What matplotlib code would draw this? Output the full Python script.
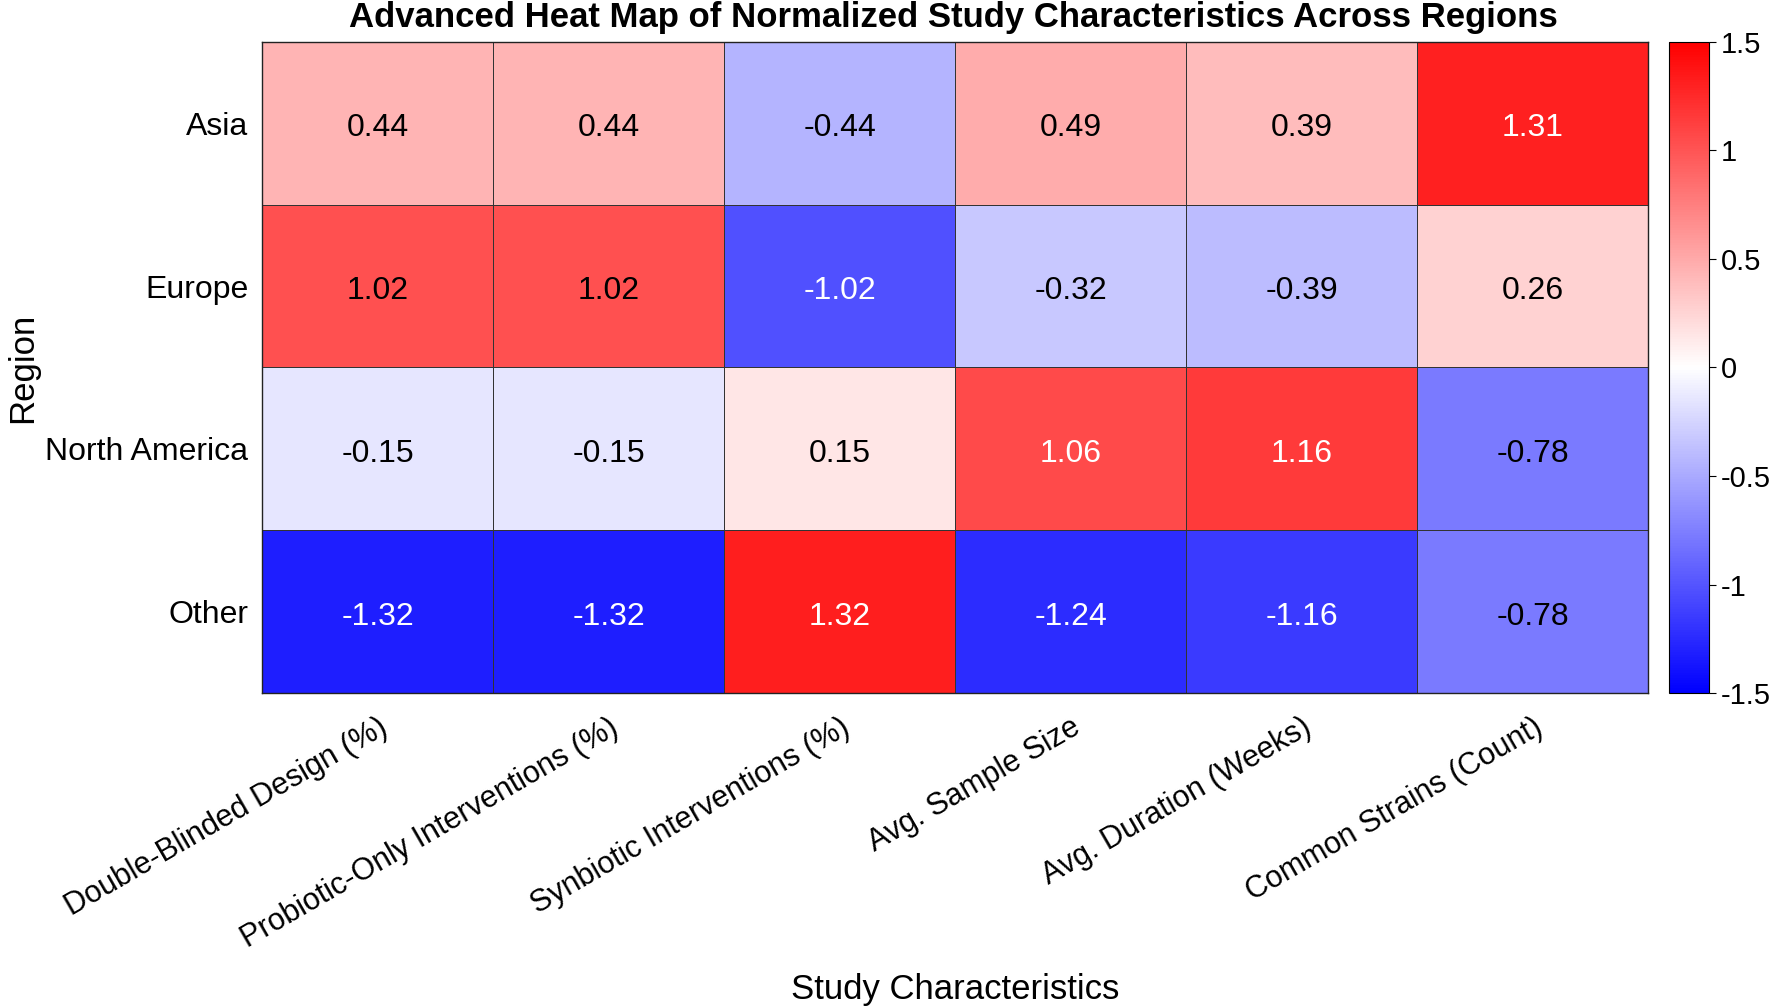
import numpy as np
import matplotlib
matplotlib.use('Agg')
import matplotlib.pyplot as plt
from matplotlib.ticker import FuncFormatter

plt.rcParams['font.family'] = ['Liberation Sans', 'DejaVu Sans']

regions = ['Asia', 'Europe', 'North America', 'Other']
characteristics = ['Double-Blinded Design (%)', 'Probiotic-Only Interventions (%)',
                   'Synbiotic Interventions (%)', 'Avg. Sample Size',
                   'Avg. Duration (Weeks)', 'Common Strains (Count)']
asia = [0.44, 0.44, -0.44, 0.49, 0.39, 1.31]
europe = [1.02, 1.02, -1.02, -0.32, -0.39, 0.26]
north_america = [-0.15, -0.15, 0.15, 1.06, 1.16, -0.78]
other = [-1.32, -1.32, 1.32, -1.24, -1.16, -0.78]
cbar_ticks = [-1.5, -1, -0.5, 0, 0.5, 1, 1.5]

values = np.array([asia, europe, north_america, other])

fig = plt.figure(figsize=(17.72, 10.07), dpi=100)
ax = fig.add_axes([0.148, 0.3117, 0.782, 0.6468])
cax = fig.add_axes([0.942, 0.3117, 0.0223, 0.6468])

mesh = ax.pcolormesh(values, cmap='bwr', vmin=-1.5, vmax=1.5,
                     edgecolors='#333333', linewidth=0.7)
ax.set_xlim(0, len(characteristics))
ax.set_ylim(len(regions), 0)

for i in range(len(regions)):
    for j in range(len(characteristics)):
        v = values[i, j]
        col = 'white' if (v > 1.05 or v < -1.0) else 'black'
        ax.text(j + 0.5, i + 0.53, f'{v:.2f}', ha='center', va='center',
                fontsize=23, color=col)

ax.set_xticks(np.arange(len(characteristics)) + 0.5)
ax.set_xticklabels(characteristics, rotation=30, ha='right',
                   rotation_mode='anchor', fontsize=22)
ax.set_yticks(np.arange(len(regions)) + 0.5)
ax.set_yticklabels(regions, fontsize=23)
ax.tick_params(axis='both', length=0)
ax.tick_params(axis='x', pad=14)
ax.tick_params(axis='y', pad=10)
for s in ax.spines.values():
    s.set_color('#222222')
    s.set_linewidth(1.0)

ax.set_xlabel('Study Characteristics', fontsize=25)
ax.xaxis.set_label_coords(0.5, -0.43)
ax.set_ylabel('Region', fontsize=25)
ax.yaxis.set_label_coords(-0.161, 0.5)
fig.text(0.538, 0.983, 'Advanced Heat Map of Normalized Study Characteristics Across Regions',
         ha='center', va='center', fontsize=25, fontweight='bold')

cb = fig.colorbar(mesh, cax=cax, ticks=cbar_ticks)
cb.ax.yaxis.set_major_formatter(FuncFormatter(lambda x, p: f'{x:g}'))
cb.ax.tick_params(labelsize=21, length=5)
cb.outline.set_color('black')

fig.savefig('out.png', dpi=100)
